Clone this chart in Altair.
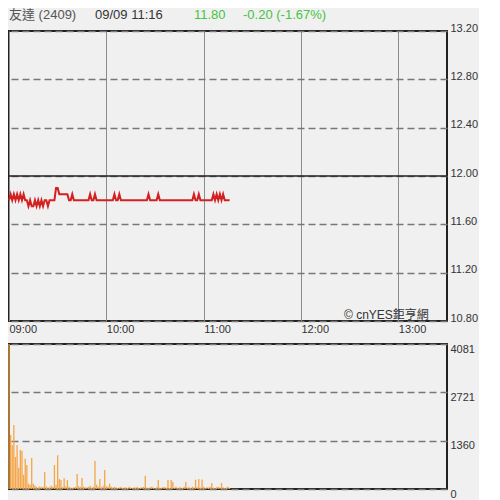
import altair as alt
import pandas as pd

# ---- data ----
minutes = list(range(137))  # 09:00 .. 11:16, one value per minute

prices = [
    11.80, 11.85, 11.80, 11.85, 11.80, 11.85, 11.80, 11.85, 11.80, 11.85,
    11.80, 11.80, 11.75, 11.80, 11.75, 11.75, 11.80, 11.75, 11.80, 11.75,
    11.80, 11.75, 11.80, 11.80, 11.75, 11.80, 11.80, 11.80, 11.80, 11.90,
    11.90, 11.85, 11.85, 11.85, 11.85, 11.85, 11.85, 11.80, 11.80, 11.85,
    11.80, 11.80, 11.80, 11.80, 11.80, 11.80, 11.80, 11.80, 11.80, 11.80,
    11.85, 11.80, 11.80, 11.85, 11.80, 11.80, 11.80, 11.80, 11.80, 11.80,
    11.80, 11.80, 11.80, 11.80, 11.80, 11.85, 11.80, 11.80, 11.85, 11.80,
    11.80, 11.80, 11.80, 11.80, 11.80, 11.80, 11.80, 11.80, 11.80, 11.80,
    11.80, 11.80, 11.80, 11.80, 11.80, 11.80, 11.85, 11.80, 11.80, 11.80,
    11.80, 11.80, 11.85, 11.80, 11.80, 11.80, 11.80, 11.80, 11.80, 11.80,
    11.80, 11.80, 11.80, 11.80, 11.80, 11.80, 11.80, 11.80, 11.80, 11.80,
    11.80, 11.80, 11.80, 11.80, 11.85, 11.80, 11.80, 11.85, 11.80, 11.80,
    11.80, 11.80, 11.80, 11.80, 11.80, 11.80, 11.85, 11.80, 11.85, 11.80,
    11.85, 11.80, 11.85, 11.80, 11.80, 11.80, 11.80,
]

volumes = [
    4081, 1520, 1240, 1800, 900, 1240, 600, 1100, 1080, 400,
    850, 675, 150, 120, 870, 150, 100, 60, 40, 80,
    50, 60, 480, 70, 40, 50, 90, 60, 675, 120,
    950, 280, 250, 60, 300, 80, 250, 60, 40, 30,
    50, 60, 420, 80, 60, 310, 70, 40, 50, 60,
    90, 40, 60, 790, 120, 60, 280, 50, 90, 535,
    80, 60, 150, 70, 40, 60, 50, 30, 40, 60,
    30, 40, 50, 30, 60, 40, 30, 50, 40, 60,
    30, 40, 50, 60, 370, 40, 30, 50, 60, 40,
    30, 50, 250, 40, 30, 60, 50, 40, 250, 30,
    250, 200, 40, 60, 30, 50, 40, 30, 60, 200,
    40, 50, 30, 60, 40, 260, 50, 280, 40, 270,
    60, 30, 50, 40, 60, 170, 40, 30, 50, 60,
    40, 170, 50, 30, 40, 60, 30,
]

price_ticks = [10.80, 11.20, 11.60, 12.00, 12.40, 12.80, 13.20]
vol_ticks = [0, 1360, 2721, 4081]
hour_ticks = [9, 10, 11, 12, 13]
prev_close = [12.00]

header_texts = ["友達 (2409)", "09/09 11:16", "11.80", "-0.20 (-1.67%)"]
header_colors = ["#555555", "#333333", "#44c444", "#44c444"]
header_x = [0, 86, 185, 234]
copyright_text = "© cnYES鉅亨網"

# ---- build tables ----
base_time = pd.Timestamp("2024-09-09 09:00")
times = [(base_time + pd.Timedelta(minutes=m)).strftime("%Y-%m-%dT%H:%M:%S") for m in minutes]
df = pd.DataFrame({"t": times, "price": prices, "vol": volumes, "zero": [0] * len(minutes)})

FONT = "Liberation Sans, Arial, Noto Sans CJK TC, sans-serif"
W = 438


def dt(h, mi=0):
    return alt.DateTime(year=2024, month=9, date=9, hours=h, minutes=mi)


xscale = alt.Scale(domain=[dt(9), dt(13, 30)], padding=0)
hour_values = [dt(h) for h in hour_ticks]

x_top = alt.X(
    "t:T",
    scale=xscale,
    axis=alt.Axis(
        values=hour_values, format="%H:%M", labelAlign="left", labelPadding=2,
        ticks=False, domain=False, grid=True, gridColor="#8c8c8c", gridWidth=1,
        labelFontSize=11, labelColor="#333333", labelFont=FONT, title=None,
        labelFlush=False, labelOverlap=False,
    ),
)

y_price = alt.Y(
    "price:Q",
    scale=alt.Scale(domain=[10.8, 13.2], nice=False, zero=False),
    axis=alt.Axis(
        orient="right", values=price_ticks, format=".2f", ticks=False, domain=False,
        grid=True, gridDash=[7, 4], gridColor="#777777", gridWidth=1.5,
        labelPadding=3, labelOffset=-3, labelFontSize=11, labelColor="#333333",
        labelFont=FONT, title=None, labelFlush=False,
    ),
)

price_line = alt.Chart(df).mark_line(color="#d42020", strokeWidth=2).encode(x=x_top, y=y_price)

close_rule = alt.Chart(pd.DataFrame({"price": prev_close})).mark_rule(
    color="#222222", strokeWidth=1.5
).encode(y=alt.Y("price:Q"))

hdr_df = pd.DataFrame({"text": header_texts, "color": header_colors, "x": header_x})
header = alt.Chart(hdr_df).mark_text(
    align="left", baseline="middle", fontSize=13, font=FONT
).encode(
    x=alt.X("x:Q", scale=alt.Scale(domain=[0, W], range=[0, W]), axis=None),
    y=alt.value(-16),
    text="text:N",
    color=alt.Color("color:N", scale=None),
)

copyright = alt.Chart(pd.DataFrame({"text": [copyright_text]})).mark_text(
    align="left", baseline="middle", fontSize=12, font=FONT, color="#333333"
).encode(x=alt.value(335), y=alt.value(284), text="text:N")

top = alt.layer(price_line, close_rule, header, copyright).resolve_scale(
    x="independent"
).properties(width=W, height=290)

y_vol = alt.Y(
    "vol:Q",
    scale=alt.Scale(domain=[0, 4081], nice=False),
    axis=alt.Axis(
        orient="right", values=vol_ticks, format="d", ticks=False, domain=False,
        grid=True, gridDash=[7, 4], gridColor="#777777", gridWidth=1.5,
        labelPadding=3, labelOffset=5, labelFontSize=11, labelColor="#333333",
        labelFont=FONT, title=None, labelFlush=False,
    ),
)

bars = alt.Chart(df).mark_rule(strokeWidth=1.3, color="#f5a545").encode(
    x=alt.X("t:T", scale=xscale, axis=None), y=y_vol, y2="zero:Q"
).properties(width=W, height=145)

chart = alt.vconcat(
    top, bars, spacing=7, background="#f0f0f0",
    padding={"left": -4, "top": 0, "right": 0, "bottom": 0},
).configure_view(stroke="#222222", strokeWidth=2)

chart.save("out.html", embed_options={"renderer": "svg", "actions": False})
